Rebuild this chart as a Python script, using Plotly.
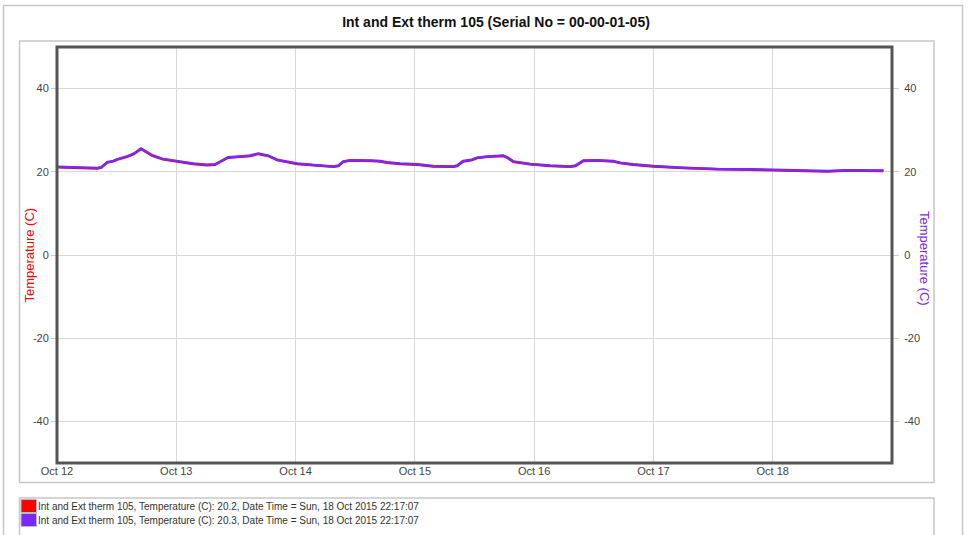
import plotly.graph_objects as go

# ---------------- data ----------------
times = [
    "2015-10-12 00:00", "2015-10-12 03:36", "2015-10-12 08:06", "2015-10-12 08:54",
    "2015-10-12 10:06", "2015-10-12 11:18", "2015-10-12 12:18", "2015-10-12 14:06",
    "2015-10-12 15:30", "2015-10-12 16:54", "2015-10-12 17:54", "2015-10-12 19:06",
    "2015-10-12 21:18", "2015-10-13 00:12", "2015-10-13 03:24", "2015-10-13 06:12",
    "2015-10-13 07:48", "2015-10-13 09:12", "2015-10-13 10:24", "2015-10-13 12:48",
    "2015-10-13 14:54", "2015-10-13 16:30", "2015-10-13 18:30", "2015-10-13 20:18",
    "2015-10-14 00:18", "2015-10-14 04:18", "2015-10-14 07:36", "2015-10-14 08:36",
    "2015-10-14 09:36", "2015-10-14 11:00", "2015-10-14 13:36", "2015-10-14 15:24",
    "2015-10-14 17:00", "2015-10-14 18:24", "2015-10-14 21:00", "2015-10-15 00:30",
    "2015-10-15 03:42", "2015-10-15 07:42", "2015-10-15 08:30", "2015-10-15 09:42",
    "2015-10-15 11:30", "2015-10-15 12:30", "2015-10-15 14:36", "2015-10-15 17:48",
    "2015-10-15 18:36", "2015-10-15 19:48", "2015-10-15 23:12", "2015-10-16 03:12",
    "2015-10-16 07:18", "2015-10-16 08:18", "2015-10-16 09:54", "2015-10-16 12:42",
    "2015-10-16 15:54", "2015-10-16 17:18", "2015-10-16 19:54", "2015-10-17 00:00",
    "2015-10-17 06:00", "2015-10-17 12:54", "2015-10-17 19:30", "2015-10-18 00:06",
    "2015-10-18 05:36", "2015-10-18 11:00", "2015-10-18 15:00", "2015-10-18 19:06",
    "2015-10-18 22:17:07",
]

temp_int = [
    21.1, 21.0, 20.8, 21.0, 22.2, 22.5, 23.0, 23.6, 24.3, 25.5, 24.8, 23.9,
    23.0, 22.4, 21.9, 21.6, 21.7, 22.6, 23.4, 23.6, 23.8, 24.3, 23.8, 22.8,
    21.9, 21.5, 21.2, 21.4, 22.4, 22.7, 22.7, 22.6, 22.5, 22.2, 21.9, 21.7,
    21.3, 21.2, 21.4, 22.5, 22.8, 23.3, 23.6, 23.8, 23.4, 22.4, 21.8, 21.4,
    21.2, 21.4, 22.6, 22.7, 22.5, 22.1, 21.7, 21.3, 20.9, 20.6, 20.5, 20.4,
    20.2, 20.1, 20.3, 20.2, 20.2,
]

temp_ext = [
    21.2, 21.1, 20.9, 21.1, 22.3, 22.6, 23.1, 23.7, 24.4, 25.6, 24.9, 24.0,
    23.1, 22.5, 22.0, 21.7, 21.8, 22.7, 23.5, 23.7, 23.9, 24.4, 23.9, 22.9,
    22.0, 21.6, 21.3, 21.5, 22.5, 22.8, 22.8, 22.7, 22.6, 22.3, 22.0, 21.8,
    21.4, 21.3, 21.5, 22.6, 22.9, 23.4, 23.7, 23.9, 23.5, 22.5, 21.9, 21.5,
    21.3, 21.5, 22.7, 22.8, 22.6, 22.2, 21.8, 21.4, 21.0, 20.7, 20.6, 20.5,
    20.3, 20.2, 20.4, 20.3, 20.3,
]

x_tick_vals = ["2015-10-12", "2015-10-13", "2015-10-14", "2015-10-15",
               "2015-10-16", "2015-10-17", "2015-10-18"]
x_tick_text = ["Oct 12", "Oct 13", "Oct 14", "Oct 15", "Oct 16", "Oct 17", "Oct 18"]
y_ticks = [-40, -20, 0, 20, 40]
y_tick_text = ["-40", "-20", "0", "20", "40"]
legend_labels = [
    "Int and Ext therm 105, Temperature (C): 20.2, Date Time = Sun, 18 Oct 2015 22:17:07",
    "Int and Ext therm 105, Temperature (C): 20.3, Date Time = Sun, 18 Oct 2015 22:17:07",
]
title_text = "Int and Ext therm 105 (Serial No = 00-00-01-05)"
axis_title = "Temperature (C)"

# ---------------- layout helpers ----------------
W, H = 970, 535
L, R, T, B = 57, 892, 47, 463
RED = "#ff0000"
PURPLE = "#7a28f5"
FONT = "Arial, Liberation Sans, sans-serif"


def px(x):
    return (x - L) / (R - L)


def py(y):
    return (B - y) / (B - T)


fig = go.Figure()
fig.add_trace(go.Scatter(x=times, y=temp_int, mode="lines",
                         line=dict(color=RED, width=2.5), showlegend=False,
                         name=legend_labels[0]))
fig.add_trace(go.Scatter(x=times, y=temp_ext, mode="lines", yaxis="y2",
                         line=dict(color=PURPLE, width=2.5), showlegend=False,
                         name=legend_labels[1]))

shapes = []
grey = "#c8c8c8"
# outermost frame
shapes.append(dict(type="rect", xref="paper", yref="paper",
                   x0=px(3.5), x1=px(962.5), y0=py(545), y1=py(5.5),
                   line=dict(color=grey, width=1.5), layer="below"))
# chart frame
shapes.append(dict(type="rect", xref="paper", yref="paper",
                   x0=px(19.5), x1=px(934), y0=py(482.5), y1=py(41),
                   line=dict(color=grey, width=1.5), layer="below"))
# legend frame
shapes.append(dict(type="rect", xref="paper", yref="paper",
                   x0=px(19.5), x1=px(934), y0=py(545), y1=py(498),
                   line=dict(color=grey, width=1.5), layer="below"))
# plot border
shapes.append(dict(type="rect", xref="paper", yref="paper",
                   x0=0, x1=1, y0=0, y1=1,
                   line=dict(color="#555555", width=3), layer="above"))

annotations = []
for i, (lab, col) in enumerate(zip(legend_labels, [RED, PURPLE])):
    yc = 506 + 14 * i
    shapes.append(dict(type="rect", xref="paper", yref="paper",
                       x0=px(21), x1=px(36.5), y0=py(yc + 6.5), y1=py(yc - 6.5),
                       fillcolor=col, line=dict(color="#bbbbbb", width=1)))
    annotations.append(dict(xref="paper", yref="paper", x=px(35.5), y=py(yc),
                            xanchor="left", yanchor="middle", showarrow=False,
                            text=lab, font=dict(family=FONT, size=10, color="#333333")))

annotations.append(dict(xref="paper", yref="paper", x=px(28.5), y=py(255),
                        xanchor="center", yanchor="middle", showarrow=False,
                        text=axis_title, textangle=-90,
                        font=dict(family=FONT, size=13, color=RED)))
annotations.append(dict(xref="paper", yref="paper", x=px(925), y=py(258),
                        xanchor="center", yanchor="middle", showarrow=False,
                        text=axis_title, textangle=90,
                        font=dict(family=FONT, size=13, color=PURPLE)))

tickfont = dict(family=FONT, size=11, color="#444444")

fig.update_layout(
    width=W, height=H,
    margin=dict(l=L, r=W - R, t=T, b=H - B, pad=0),
    paper_bgcolor="white", plot_bgcolor="white",
    title=dict(text="<b>" + title_text + "</b>", xref="paper", x=px(496),
               xanchor="center", yref="container", y=1 - 22 / H, yanchor="middle",
               font=dict(family=FONT, size=14, color="#111111")),
    xaxis=dict(type="date", range=["2015-10-12 00:00", "2015-10-19 00:00"],
               tickvals=x_tick_vals, ticktext=x_tick_text,
               showgrid=True, gridcolor="#d8d8d8", gridwidth=1,
               ticks="", tickfont=tickfont, zeroline=False, showline=False),
    yaxis=dict(range=[-50, 50], tickvals=y_ticks, ticktext=y_tick_text, showgrid=True,
               gridcolor="#d8d8d8", gridwidth=1, zeroline=False,
               ticks="outside", ticklen=5, tickcolor="#cccccc",
               tickfont=tickfont, showline=False),
    yaxis2=dict(range=[-50, 50], tickvals=y_ticks, ticktext=y_tick_text,
                overlaying="y", side="right",
                showgrid=False, zeroline=False, ticks="outside", ticklen=6,
                tickcolor="#cccccc", tickfont=tickfont, ticklabelstandoff=3,
                showline=False),
    shapes=shapes,
    annotations=annotations,
    showlegend=False,
)

fig.write_html("out.html", config={"displayModeBar": False},
               post_script="document.body.style.margin='0';document.body.style.padding='0';document.body.style.overflow='hidden';")
